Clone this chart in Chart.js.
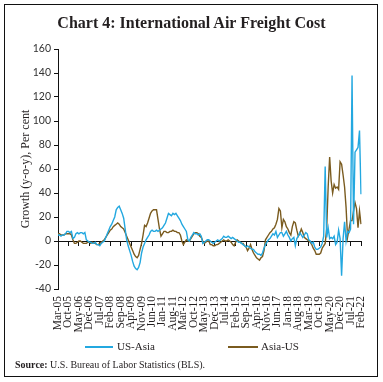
<!DOCTYPE html>
<html><head><meta charset="utf-8">
<script src="https://cdn.jsdelivr.net/npm/chart.js@4.4.0/dist/chart.umd.min.js"></script>
<style>
html,body{margin:0;padding:0;background:#fff;}
#wrap{position:relative;width:383px;height:382px;overflow:hidden;background:#fff;}
#frame{position:absolute;left:4px;top:4px;width:372px;height:371px;border:1.5px solid #111;box-sizing:content-box;pointer-events:none;}
#title{position:absolute;left:0;width:383px;top:14px;line-height:18px;text-align:center;font-family:"Liberation Serif",serif;font-weight:bold;font-size:16px;color:#231f20;}
canvas{position:absolute;left:0;top:0;}
.lg-line{position:absolute;height:2px;top:346px;}
.lg-text{position:absolute;top:340px;line-height:13px;font-family:"Liberation Serif",serif;font-size:11px;color:#231f20;}
#source{position:absolute;left:15px;top:359px;line-height:12px;font-family:"Liberation Serif",serif;font-size:10px;color:#231f20;}
</style></head>
<body>
<div id="wrap">
  <canvas id="c" width="383" height="382"></canvas>
  <div id="title">Chart 4: International Air Freight Cost</div>
  <div class="lg-line" style="left:85px;width:28px;background:#23a8e0;"></div>
  <div class="lg-text" style="left:117px;">US-Asia</div>
  <div class="lg-line" style="left:228px;width:30px;background:#7a5b1f;"></div>
  <div class="lg-text" style="left:261px;">Asia-US</div>
  <div id="source"><b>Source:</b> U.S. Bureau of Labor Statistics (BLS).</div>
  <div id="frame"></div>
</div>
<script>
// Categories: monthly, Mar-05 to Feb-22
const monthNames = ['Jan','Feb','Mar','Apr','May','Jun','Jul','Aug','Sep','Oct','Nov','Dec'];
const months = [];
for (let i = 0; i < 204; i++) {
  const m = (2 + i) % 12;
  const y = 5 + Math.floor((2 + i) / 12);
  months.push(monthNames[m] + '-' + String(y).padStart(2, '0'));
}

const tickLabels = ['Mar-05','Oct-05','May-06','Dec-06','Jul-07','Feb-08','Sep-08','Apr-09','Nov-09','Jun-10',
  'Jan-11','Aug-11','Mar-12','Oct-12','May-13','Dec-13','Jul-14','Feb-15','Sep-15','Apr-16',
  'Nov-16','Jun-17','Jan-18','Aug-18','Mar-19','Oct-19','May-20','Dec-20','Jul-21','Feb-22'];

const yTicks = [-40, -20, 0, 20, 40, 60, 80, 100, 120, 140, 160];

const usAsia = [
  5, 5, 4, 5, 5, 6, 8, 8, 7, 8,
  2, 3, 6, 7, 6, 7, 7, 6, 7, 1,
  0, -1, -1, -2, -2, -1, -3, -3, -4, -2,
  -1, 0, 3, 6, 9, 12, 14, 17, 20, 26,
  28, 29, 26, 23, 19, 10, 1, -4, -8, -12,
  -17, -21, -23, -24, -22, -18, -10, -5, -2, 1,
  3, 5, 8, 9, 8, 8, 9, 8, 9, 10,
  11, 13, 15, 19, 23, 22, 21, 23, 22, 23,
  21, 19, 17, 14, 12, 10, 8, 1, 0, 3,
  5, 7, 6, 6, 5, 6, 4, -2, -1, 0,
  1, 1, 0, -1, -2, -1, 0, 1, 0, 1,
  2, 4, 3, 3, 4, 3, 2, 3, 2, 1,
  0, -1, -1, -2, -3, -4, -5, -4, -5, -6,
  -7, -7, -9, -10, -11, -11, -12, -10, -6, -3,
  -1, 1, 2, 4, 6, 5, 8, 3, 5, 7,
  7, 4, 6, 8, 5, 3, 0, 2, 3, -4,
  2, 4, 7, 5, 3, 5, 7, 6, 1, 0,
  -2, -1, -5, -7, -7, -6, -5, -2, 4, 62,
  3, 11, 2, 3, 2, 4, -3, -1, 9, 2,
  -29, 2, 16, 0, 8, 7, 10, 138, 14, 74,
  76, 78, 92, 39
];

const asiaUs = [
  6, 6, 5, 5, 5, 6, 6, 6, 6, 5,
  1, -2, -2, -1, 0, 0, -1, -2, -2, -2,
  -1, -1, -2, -1, -2, -2, -3, -3, -2, -1,
  0, 1, 3, 5, 7, 9, 10, 12, 13, 14,
  15, 14, 12, 11, 10, 7, 4, 1, -2, -5,
  -8, -11, -13, -14, -12, -7, -2, 5, 13, 12,
  15, 19, 23, 25, 26, 26, 26, 18, 10, 4,
  6, 8, 8, 7, 7, 8, 8, 9, 8, 8,
  7, 7, 5, 0, -3, -1, 1, 0, 0, 2,
  4, 6, 7, 7, 6, 4, 3, 0, -2, -1,
  0, 0, -3, -3, -4, -4, -3, -3, -2, -1,
  0, 1, 0, 0, 1, 0, -1, -3, -4, -1,
  1, 0, -1, -2, -2, -4, -5, -8, -6, -3,
  -7, -10, -12, -14, -15, -16, -14, -13, -8, 1,
  3, 5, 7, 8, 10, 11, 14, 18, 27, 25,
  11, 18, 16, 12, 10, 7, 5, 12, 16, 15,
  9, 4, 6, 10, 7, 3, 2, 1, 0, -1,
  -3, -6, -8, -11, -11, -11, -10, -6, -4, -2,
  10, 45, 70, 50, 40, 47, 44, 45, 43, 66,
  64, 55, 45, 28, 3, 10, 17, 17, 25, 32,
  27, 11, 25, 14
];

const keepLabelTicks = (s) => {
  s.ticks = s.ticks.filter(t => tickLabels.includes(months[t.value]));
};

new Chart(document.getElementById('c'), {
  type: 'line',
  data: {
    labels: months,
    datasets: [
      { label: 'US-Asia', data: usAsia, borderColor: '#23a8e0', borderWidth: 1.4, pointRadius: 0, tension: 0, xAxisID: 'x', yAxisID: 'y' },
      { label: 'Asia-US', data: asiaUs, borderColor: '#7a5b1f', borderWidth: 1.4, pointRadius: 0, tension: 0, xAxisID: 'x', yAxisID: 'y' }
    ]
  },
  options: {
    responsive: false,
    animation: false,
    events: [],
    layout: { padding: { left: 15, right: 22, top: 49, bottom: 43 } },
    plugins: { legend: { display: false }, tooltip: { enabled: false } },
    scales: {
      x: {
        type: 'category',
        position: 'bottom',
        offset: false,
        grid: { display: false, drawTicks: false },
        border: { display: false },
        afterBuildTicks: keepLabelTicks,
        afterFit: (s) => { s.height = 50; s.paddingLeft = 0; s.paddingRight = 0; },
        ticks: {
          autoSkip: false, maxRotation: 90, minRotation: 90, padding: 7,
          color: '#231f20',
          font: { family: 'Liberation Serif', size: 11.5 }
        }
      },
      x2: {
        type: 'category',
        position: { y: 0 },
        offset: false,
        afterBuildTicks: keepLabelTicks,
        grid: { display: true, drawOnChartArea: false, drawTicks: true, tickLength: 4, tickColor: '#111', tickWidth: 1 },
        border: { display: true, color: '#111', width: 1 },
        ticks: { display: false }
      },
      y: {
        min: -40, max: 160,
        afterBuildTicks: (s) => { s.ticks = yTicks.map(v => ({ value: v })); },
        afterFit: (s) => { s.width = 43; s.paddingTop = 0; s.paddingBottom = 0; },
        grid: { display: true, drawOnChartArea: false, drawTicks: true, tickLength: 4, tickColor: '#111', tickWidth: 1 },
        border: { display: true, color: '#111', width: 1 },
        ticks: { padding: 3, color: '#333', font: { family: 'Lato', size: 10.5 } },
        title: { display: true, text: 'Growth (y-o-y), Per cent', color: '#231f20', padding: { top: 4, bottom: 0 }, font: { family: 'Liberation Serif', size: 12 } }
      }
    }
  }
});
</script>
</body></html>
